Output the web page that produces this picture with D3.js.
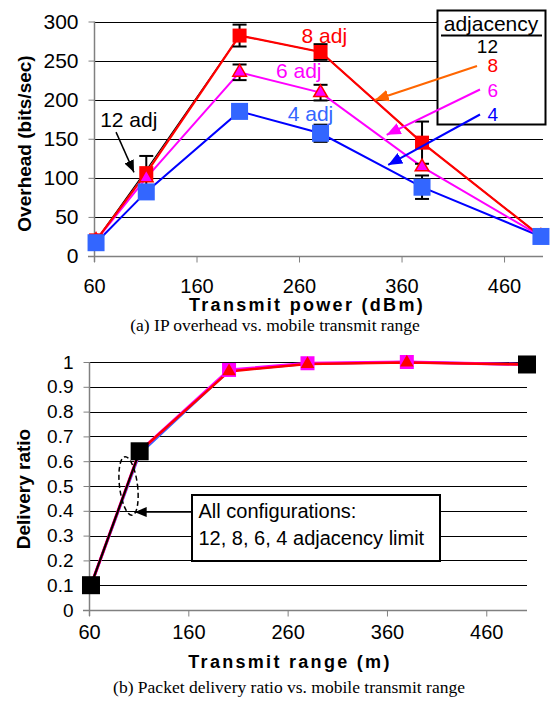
<!DOCTYPE html>
<html>
<head>
<meta charset="utf-8">
<script src="https://cdn.jsdelivr.net/npm/d3@7"></script>
<style>
  body { margin: 0; background: #fff; }
  svg { display: block; }
</style>
</head>
<body>
<div id="chart-container"></div>
<script>
// ---- panel (a): IP overhead vs transmit power ----
const powerX = [62, 111, 202, 281, 380, 496];
const overhead12 = [20, 110, 282, 261, 145, 25];
const overhead8 = [20, 106, 282, 261, 145, 25];
const overhead6 = [20, 100, 235, 209, 114, 25];
const overhead4 = [17, 82, 185, 157, 88, 25];
const err8 = [0, 22, 14, 10, 27, 0];
const err6 = [0, 0, 10, 10, 0, 0];
const err4 = [0, 0, 8, 11, 15, 0];
const overheadTicks = [0, 50, 100, 150, 200, 250, 300];
const powerTicks = [60, 160, 260, 360, 460];
const adjLabels = ["12", "8", "6", "4"];

// ---- panel (b): delivery ratio vs transmit range ----
const rangeX = [62, 111, 201, 280, 380, 501];
const ratio12 = [0.10, 0.64, null, null, null, 0.99];
const ratio8 = [0.10, 0.64, 0.962, 0.992, 0.998, 0.99];
const ratio6 = [0.10, 0.64, 0.968, 0.995, 1.0, 0.99];
const ratio4 = [0.10, 0.63, 0.965, 0.993, 1.0, 0.99];
const ratioTicks = [0, 0.1, 0.2, 0.3, 0.4, 0.5, 0.6, 0.7, 0.8, 0.9, 1];
const rangeTicks = [60, 160, 260, 360, 460];

const sans = "'Liberation Sans', Arial, sans-serif";
const serif = "'Liberation Serif', 'Times New Roman', serif";

const svg = d3.select("#chart-container")
    .append("svg")
    .attr("width", 551)
    .attr("height", 702)
    .style("background", "#fff");

// arrowheads
const defs = svg.append("defs");
function arrowHead(id, color, len, wid) {
    defs.append("marker")
        .attr("id", id)
        .attr("markerUnits", "userSpaceOnUse")
        .attr("markerWidth", len)
        .attr("markerHeight", wid)
        .attr("refX", len)
        .attr("refY", wid / 2)
        .attr("orient", "auto")
        .append("path")
        .attr("d", `M0,0 L${len},${wid / 2} L0,${wid} Z`)
        .attr("fill", color);
}
arrowHead("ah-black", "#000", 12, 10);
arrowHead("ah-orange", "#FF6600", 14, 12);
arrowHead("ah-magenta", "#FF00FF", 14, 12);
arrowHead("ah-blue", "#0000FF", 14, 12);

function drawFrame(g, x, y, xTicks, yTicks, yFont, xLabelY, yFmt) {
    const [x0, x1] = x.range();
    const [y0] = y.range();

    g.append("g").selectAll("line")
        .data(yTicks.filter(d => d > 0))
        .join("line")
        .attr("x1", x0).attr("x2", x1)
        .attr("y1", d => Math.round(y(d)) + 0.5)
        .attr("y2", d => Math.round(y(d)) + 0.5)
        .attr("stroke", "#000")
        .attr("stroke-width", 1);

    const ya = g.append("g")
        .attr("transform", `translate(${Math.round(x0) + 0.5},0)`)
        .call(d3.axisLeft(y).tickValues(yTicks).tickSize(6).tickPadding(10).tickFormat(yFmt));
    ya.select(".domain").remove();
    ya.selectAll("line").attr("stroke", "#808080");
    ya.selectAll("text").attr("font-family", sans).attr("font-size", yFont).attr("fill", "#000");

    const xa = g.append("g")
        .attr("transform", `translate(0,${Math.round(y0) + 0.5})`)
        .call(d3.axisBottom(x).tickValues(xTicks).tickSize(6));
    xa.select(".domain").remove();
    xa.selectAll("line").attr("stroke", "#808080");
    xa.selectAll("text")
        .attr("dy", null)
        .attr("y", xLabelY)
        .attr("font-family", sans).attr("font-size", 20).attr("fill", "#000");

    // axis lines
    g.append("line")
        .attr("x1", Math.round(x0) + 0.5).attr("x2", Math.round(x0) + 0.5)
        .attr("y1", y.range()[1]).attr("y2", y0 + 6)
        .attr("stroke", "#808080").attr("stroke-width", 1.5);
    g.append("line")
        .attr("x1", x0 - 6).attr("x2", x1)
        .attr("y1", Math.round(y0) + 0.5).attr("y2", Math.round(y0) + 0.5)
        .attr("stroke", "#808080").attr("stroke-width", 1.5);
}

function drawLine(g, xs, vals, x, y, color, w) {
    const line = d3.line()
        .defined(d => d[1] !== null)
        .x(d => x(d[0]))
        .y(d => y(d[1]));
    g.append("path")
        .datum(xs.map((v, i) => [v, vals[i]]))
        .attr("fill", "none")
        .attr("stroke", color)
        .attr("stroke-width", w)
        .attr("d", line);
}

function drawSquares(g, xs, vals, x, y, color, size) {
    g.append("g").selectAll("rect")
        .data(xs.map((v, i) => [v, vals[i]]).filter(d => d[1] !== null))
        .join("rect")
        .attr("x", d => x(d[0]) - size / 2)
        .attr("y", d => y(d[1]) - size / 2)
        .attr("width", size)
        .attr("height", size)
        .attr("fill", color);
}

function drawTriangles(g, xs, vals, x, y, fill, stroke, area) {
    g.append("g").selectAll("path")
        .data(xs.map((v, i) => [v, vals[i]]).filter(d => d[1] !== null))
        .join("path")
        .attr("transform", d => `translate(${x(d[0])},${y(d[1])})`)
        .attr("d", d3.symbol(d3.symbolTriangle, area))
        .attr("fill", fill)
        .attr("stroke", stroke)
        .attr("stroke-width", stroke === "none" ? 0 : 1.5);
}

function drawErrors(g, xs, vals, errs, x, y) {
    const pts = xs.map((v, i) => ({ x: v, v: vals[i], e: errs[i] })).filter(d => d.e > 0);
    const eg = g.append("g").attr("stroke", "#000").attr("stroke-width", 2);
    pts.forEach(function(d) {
        const cx = x(d.x);
        eg.append("line").attr("x1", cx).attr("x2", cx)
            .attr("y1", y(d.v + d.e)).attr("y2", y(d.v - d.e));
        [d.v + d.e, d.v - d.e].forEach(function(c) {
            eg.append("line").attr("x1", cx - 7).attr("x2", cx + 7)
                .attr("y1", y(c)).attr("y2", y(c));
        });
    });
}

function addText(g, px, py, str, color, size, anchor) {
    return g.append("text")
        .attr("x", px).attr("y", py)
        .attr("font-family", sans)
        .attr("font-size", size)
        .attr("fill", color)
        .attr("text-anchor", anchor || "start")
        .text(str);
}

function addArrow(g, x1, y1, x2, y2, color, marker, w) {
    g.append("line")
        .attr("x1", x1).attr("y1", y1)
        .attr("x2", x2).attr("y2", y2)
        .attr("stroke", color)
        .attr("stroke-width", w)
        .attr("marker-end", `url(#${marker})`);
}

// ================= panel (a) =================
const panelA = svg.append("g");
const xTop = d3.scaleLinear().domain([60, 498]).range([94, 543]);
const yTop = d3.scaleLinear().domain([0, 300]).range([256, 21.5]);

drawFrame(panelA, xTop, yTop, powerTicks, overheadTicks, 21, 36, d3.format("d"));

drawLine(panelA, powerX, overhead12, xTop, yTop, "#000", 1.2);
drawLine(panelA, powerX, overhead4, xTop, yTop, "#0000FF", 2);
drawLine(panelA, powerX, overhead6, xTop, yTop, "#FF00FF", 2);
drawLine(panelA, powerX, overhead8, xTop, yTop, "#FF0000", 2.2);
drawErrors(panelA, powerX, overhead8, err8, xTop, yTop);
drawErrors(panelA, powerX, overhead6, err6, xTop, yTop);
drawErrors(panelA, powerX, overhead4, err4, xTop, yTop);
drawSquares(panelA, powerX, overhead8, xTop, yTop, "#FF0000", 14);
drawTriangles(panelA, powerX, overhead6, xTop, yTop, "#FF00FF", "#FF0000", 80);
drawSquares(panelA, powerX, overhead4, xTop, yTop, "#3366FF", 17);

// series annotations (positions in data units)
addText(panelA, xTop(66), yTop(165), "12 adj", "#000", 21);
addArrow(panelA, xTop(81.5), yTop(158.5), xTop(99), yTop(107), "#000", "ah-black", 1.5);
addText(panelA, xTop(262.5), yTop(272.5), "8 adj", "#FF0000", 21);
addText(panelA, xTop(237.5), yTop(227.5), "6 adj", "#FF00FF", 21);
addText(panelA, xTop(249), yTop(172.5), "4 adj", "#3366FF", 21);

// legend box
panelA.append("rect")
    .attr("x", 437.5).attr("y", 10.5)
    .attr("width", 108).attr("height", 114)
    .attr("fill", "#fff")
    .attr("stroke", "#000")
    .attr("stroke-width", 2);
addText(panelA, 491, 31, "adjacency", "#000", 21, "middle");
panelA.append("line")
    .attr("x1", 441).attr("x2", 542)
    .attr("y1", 35.5).attr("y2", 35.5)
    .attr("stroke", "#000").attr("stroke-width", 2);
const legendColors = ["#000", "#FF0000", "#FF00FF", "#0000FF"];
const legendBase = [53, 72, 96.5, 120.5];
adjLabels.forEach(function(lab, i) {
    addText(panelA, 498, legendBase[i], lab, legendColors[i], 19, "end");
});

addArrow(panelA, 477, 66, xTop(334), yTop(199.5), "#FF6600", "ah-orange", 2);
addArrow(panelA, 480, 89.5, xTop(345.5), yTop(155), "#FF00FF", "ah-magenta", 2);
addArrow(panelA, 480, 114.5, xTop(347), yTop(116.5), "#0000FF", "ah-blue", 2);

panelA.append("text")
    .attr("transform", "translate(31,143.5) rotate(-90)")
    .attr("text-anchor", "middle")
    .attr("font-family", sans)
    .attr("font-size", 19)
    .attr("font-weight", "bold")
    .text("Overhead (bits/sec)");

panelA.append("text")
    .attr("x", 307).attr("y", 311)
    .attr("text-anchor", "middle")
    .attr("font-family", sans)
    .attr("font-size", 18)
    .attr("font-weight", "bold")
    .attr("letter-spacing", 2.3)
    .text("Transmit power (dBm)");

panelA.append("text")
    .attr("x", 275).attr("y", 331)
    .attr("text-anchor", "middle")
    .attr("font-family", serif)
    .attr("font-size", 17.5)
    .text("(a) IP overhead vs. mobile transmit range");

// ================= panel (b) =================
const panelB = svg.append("g");
const xBot = d3.scaleLinear().domain([60, 501]).range([89, 527]);
const yBot = d3.scaleLinear().domain([0, 1]).range([610, 362]);

drawFrame(panelB, xBot, yBot, rangeTicks, ratioTicks, 19, 28, d => d === 0 || d === 1 ? d3.format("d")(d) : d3.format(".1f")(d));

drawLine(panelB, rangeX, ratio4, xBot, yBot, "#3366FF", 2.5);
drawLine(panelB, rangeX, ratio6, xBot, yBot, "#FF00FF", 3);
drawLine(panelB, rangeX, ratio8, xBot, yBot, "#FF0000", 2.5);
drawSquares(panelB, rangeX, ratio6, xBot, yBot, "#FF00FF", 14);
drawTriangles(panelB, rangeX, ratio8, xBot, yBot, "#FF0000", "none", 80);
drawLine(panelB, rangeX, ratio12, xBot, yBot, "#000", 2);
drawSquares(panelB, rangeX, ratio12, xBot, yBot, "#000", 18);

// dashed ellipse + callout
panelB.append("ellipse")
    .attr("transform", `translate(${xBot(99.8)},${yBot(0.5)}) rotate(-7)`)
    .attr("rx", 9).attr("ry", 29.5)
    .attr("fill", "none")
    .attr("stroke", "#000")
    .attr("stroke-width", 1.5)
    .attr("stroke-dasharray", "5,3");
addArrow(panelB, xBot(163.7), yBot(0.395), xBot(106), yBot(0.395), "#000", "ah-black", 1.5);
panelB.append("rect")
    .attr("x", 192).attr("y", 495)
    .attr("width", 248).attr("height", 66)
    .attr("fill", "#fff")
    .attr("stroke", "#000")
    .attr("stroke-width", 2);
addText(panelB, 198.5, 518, "All configurations:", "#000", 20);
addText(panelB, 198.5, 545, "12, 8, 6, 4 adjacency limit", "#000", 20);

panelB.append("text")
    .attr("transform", "translate(30,489) rotate(-90)")
    .attr("text-anchor", "middle")
    .attr("font-family", sans)
    .attr("font-size", 19)
    .attr("font-weight", "bold")
    .text("Delivery ratio");

panelB.append("text")
    .attr("x", 290).attr("y", 668)
    .attr("text-anchor", "middle")
    .attr("font-family", sans)
    .attr("font-size", 18)
    .attr("font-weight", "bold")
    .attr("letter-spacing", 2.3)
    .text("Transmit range (m)");

panelB.append("text")
    .attr("x", 289).attr("y", 693)
    .attr("text-anchor", "middle")
    .attr("font-family", serif)
    .attr("font-size", 17.5)
    .text("(b) Packet delivery ratio vs. mobile transmit range");
</script>
</body>
</html>
